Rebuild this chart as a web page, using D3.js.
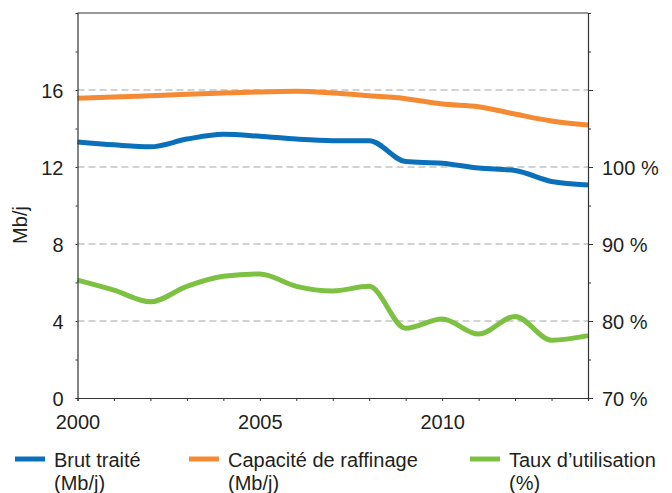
<!DOCTYPE html>
<html>
<head>
<meta charset="utf-8">
<script src="https://cdn.jsdelivr.net/npm/d3@7"></script>
<style>
body { margin: 0; background: #fff; }
svg text { font-family: "Liberation Sans", Arial, sans-serif; fill: #231f20; }
.axis path, .axis line { stroke: #333; }
.grid line { stroke: #c4c4c4; stroke-dasharray: 7,4; }
</style>
</head>
<body>
<svg id="chart" width="672" height="493"></svg>
<script>
var years = [2000,2001,2002,2003,2004,2005,2006,2007,2008,2009,2010,2011,2012,2013,2014];
// Mb/j
var brut = [13.3,13.15,13.05,13.45,13.7,13.6,13.45,13.37,13.37,12.28,12.2,11.95,11.82,11.25,11.07];
var capacite = [15.57,15.64,15.7,15.78,15.84,15.9,15.93,15.84,15.7,15.55,15.27,15.13,14.75,14.39,14.18];
// %
var taux = [85.3,84.0,82.5,84.5,85.8,86.1,84.5,83.9,84.5,79.05,80.26,78.3,80.6,77.5,78.1];

var leftTicks = [0,4,8,12,16];
var rightTicks = [70,80,90,100];
var xTickLabels = [2000,2005,2010];

var seriesNames = ["Brut traité", "Capacité de raffinage", "Taux d\u2019utilisation"];
var seriesUnits = ["(Mb/j)", "(Mb/j)", "(%)"];
var colors = ["#0a70b9", "#f58a34", "#7cc142"];

var fs = 20;
var margin = {top: 13, left: 77.5, right: 84, bottom: 95};
var svg = d3.select("#chart");
var width = 672 - margin.left - margin.right,
    height = 493 - margin.top - margin.bottom;

var x = d3.scaleLinear().domain([2000, 2014]).range([0, width]);
var yL = d3.scaleLinear().domain([0, 20]).range([height, 0]);
var yR = d3.scaleLinear().domain([70, 120]).range([height, 0]);

var g = svg.append("g").attr("transform", "translate(" + margin.left + "," + margin.top + ")");

// grid
g.append("g").attr("class", "grid")
  .selectAll("line").data(leftTicks.filter(function(d){ return d > 0; }))
  .enter().append("line")
  .attr("x1", 0).attr("x2", width)
  .attr("y1", function(d){ return yL(d); })
  .attr("y2", function(d){ return yL(d); })
  .attr("stroke-width", 1.3);

// top frame
g.append("line").attr("x1", 0).attr("x2", width).attr("y1", 0).attr("y2", 0)
  .attr("stroke", "#333").attr("stroke-width", 1.2);

// lines
var line = function(ys) {
  return d3.line()
    .x(function(d, i){ return x(years[i]); })
    .y(function(d){ return ys(d); })
    .curve(d3.curveMonotoneX);
};
var data = [[brut, yL], [capacite, yL], [taux, yR]];
data.forEach(function(s, i) {
  g.append("path")
    .datum(s[0])
    .attr("fill", "none")
    .attr("stroke", colors[i])
    .attr("stroke-width", 5)
    .attr("d", line(s[1]));
});

// x axis
var xAxis = g.append("g").attr("class", "axis")
  .attr("transform", "translate(0," + height + ")")
  .call(d3.axisBottom(x).tickValues(years).tickSize(3).tickFormat(""));
xAxis.select(".domain").attr("stroke-width", 1.2);
xAxis.selectAll(".tick").filter(function(d){ return xTickLabels.indexOf(d) >= 0; })
  .append("text")
  .attr("y", 31).attr("text-anchor", "middle")
  .attr("font-size", fs)
  .text(function(d){ return d; });

// left axis
var lAxis = g.append("g").attr("class", "axis")
  .call(d3.axisLeft(yL).tickValues(d3.range(0, 20, 2)).tickSize(2).tickFormat(""));
lAxis.select(".domain").attr("stroke-width", 1.2);
lAxis.selectAll(".tick").filter(function(d){ return leftTicks.indexOf(d) >= 0; })
  .append("text")
  .attr("x", -14).attr("dy", "0.36em").attr("text-anchor", "end")
  .attr("font-size", fs)
  .text(function(d){ return d; });

// right axis
var rAxis = g.append("g").attr("class", "axis")
  .attr("transform", "translate(" + width + ",0)")
  .call(d3.axisRight(yR).tickValues(d3.range(70, 120, 5)).tickSize(3).tickFormat(""));
rAxis.select(".domain").attr("stroke-width", 1.2);
rAxis.selectAll(".tick line").attr("x2", function(d){ return d % 10 === 0 ? 5 : 3; });
rAxis.selectAll(".tick").filter(function(d){ return rightTicks.indexOf(d) >= 0; })
  .append("text")
  .attr("x", 14).attr("dy", "0.36em").attr("text-anchor", "start")
  .attr("font-size", fs)
  .text(function(d){ return d + " %"; });

// y label
svg.append("text")
  .attr("transform", "translate(27,225) rotate(-90)")
  .attr("text-anchor", "middle")
  .attr("font-size", fs)
  .text("Mb/j");

// legend
var legendX = [15, 189, 470];
var legend = svg.selectAll(".legend").data(seriesNames).enter().append("g")
  .attr("class", "legend")
  .attr("transform", function(d, i){ return "translate(" + legendX[i] + ",0)"; });
legend.append("line")
  .attr("x1", 0).attr("x2", 30).attr("y1", 459).attr("y2", 459)
  .attr("stroke", function(d, i){ return colors[i]; })
  .attr("stroke-width", 5);
legend.append("text")
  .attr("x", 39).attr("y", 467).attr("font-size", fs)
  .text(function(d){ return d; });
legend.append("text")
  .attr("x", 39).attr("y", 490).attr("font-size", fs)
  .text(function(d, i){ return seriesUnits[i]; });
</script>
</body>
</html>
